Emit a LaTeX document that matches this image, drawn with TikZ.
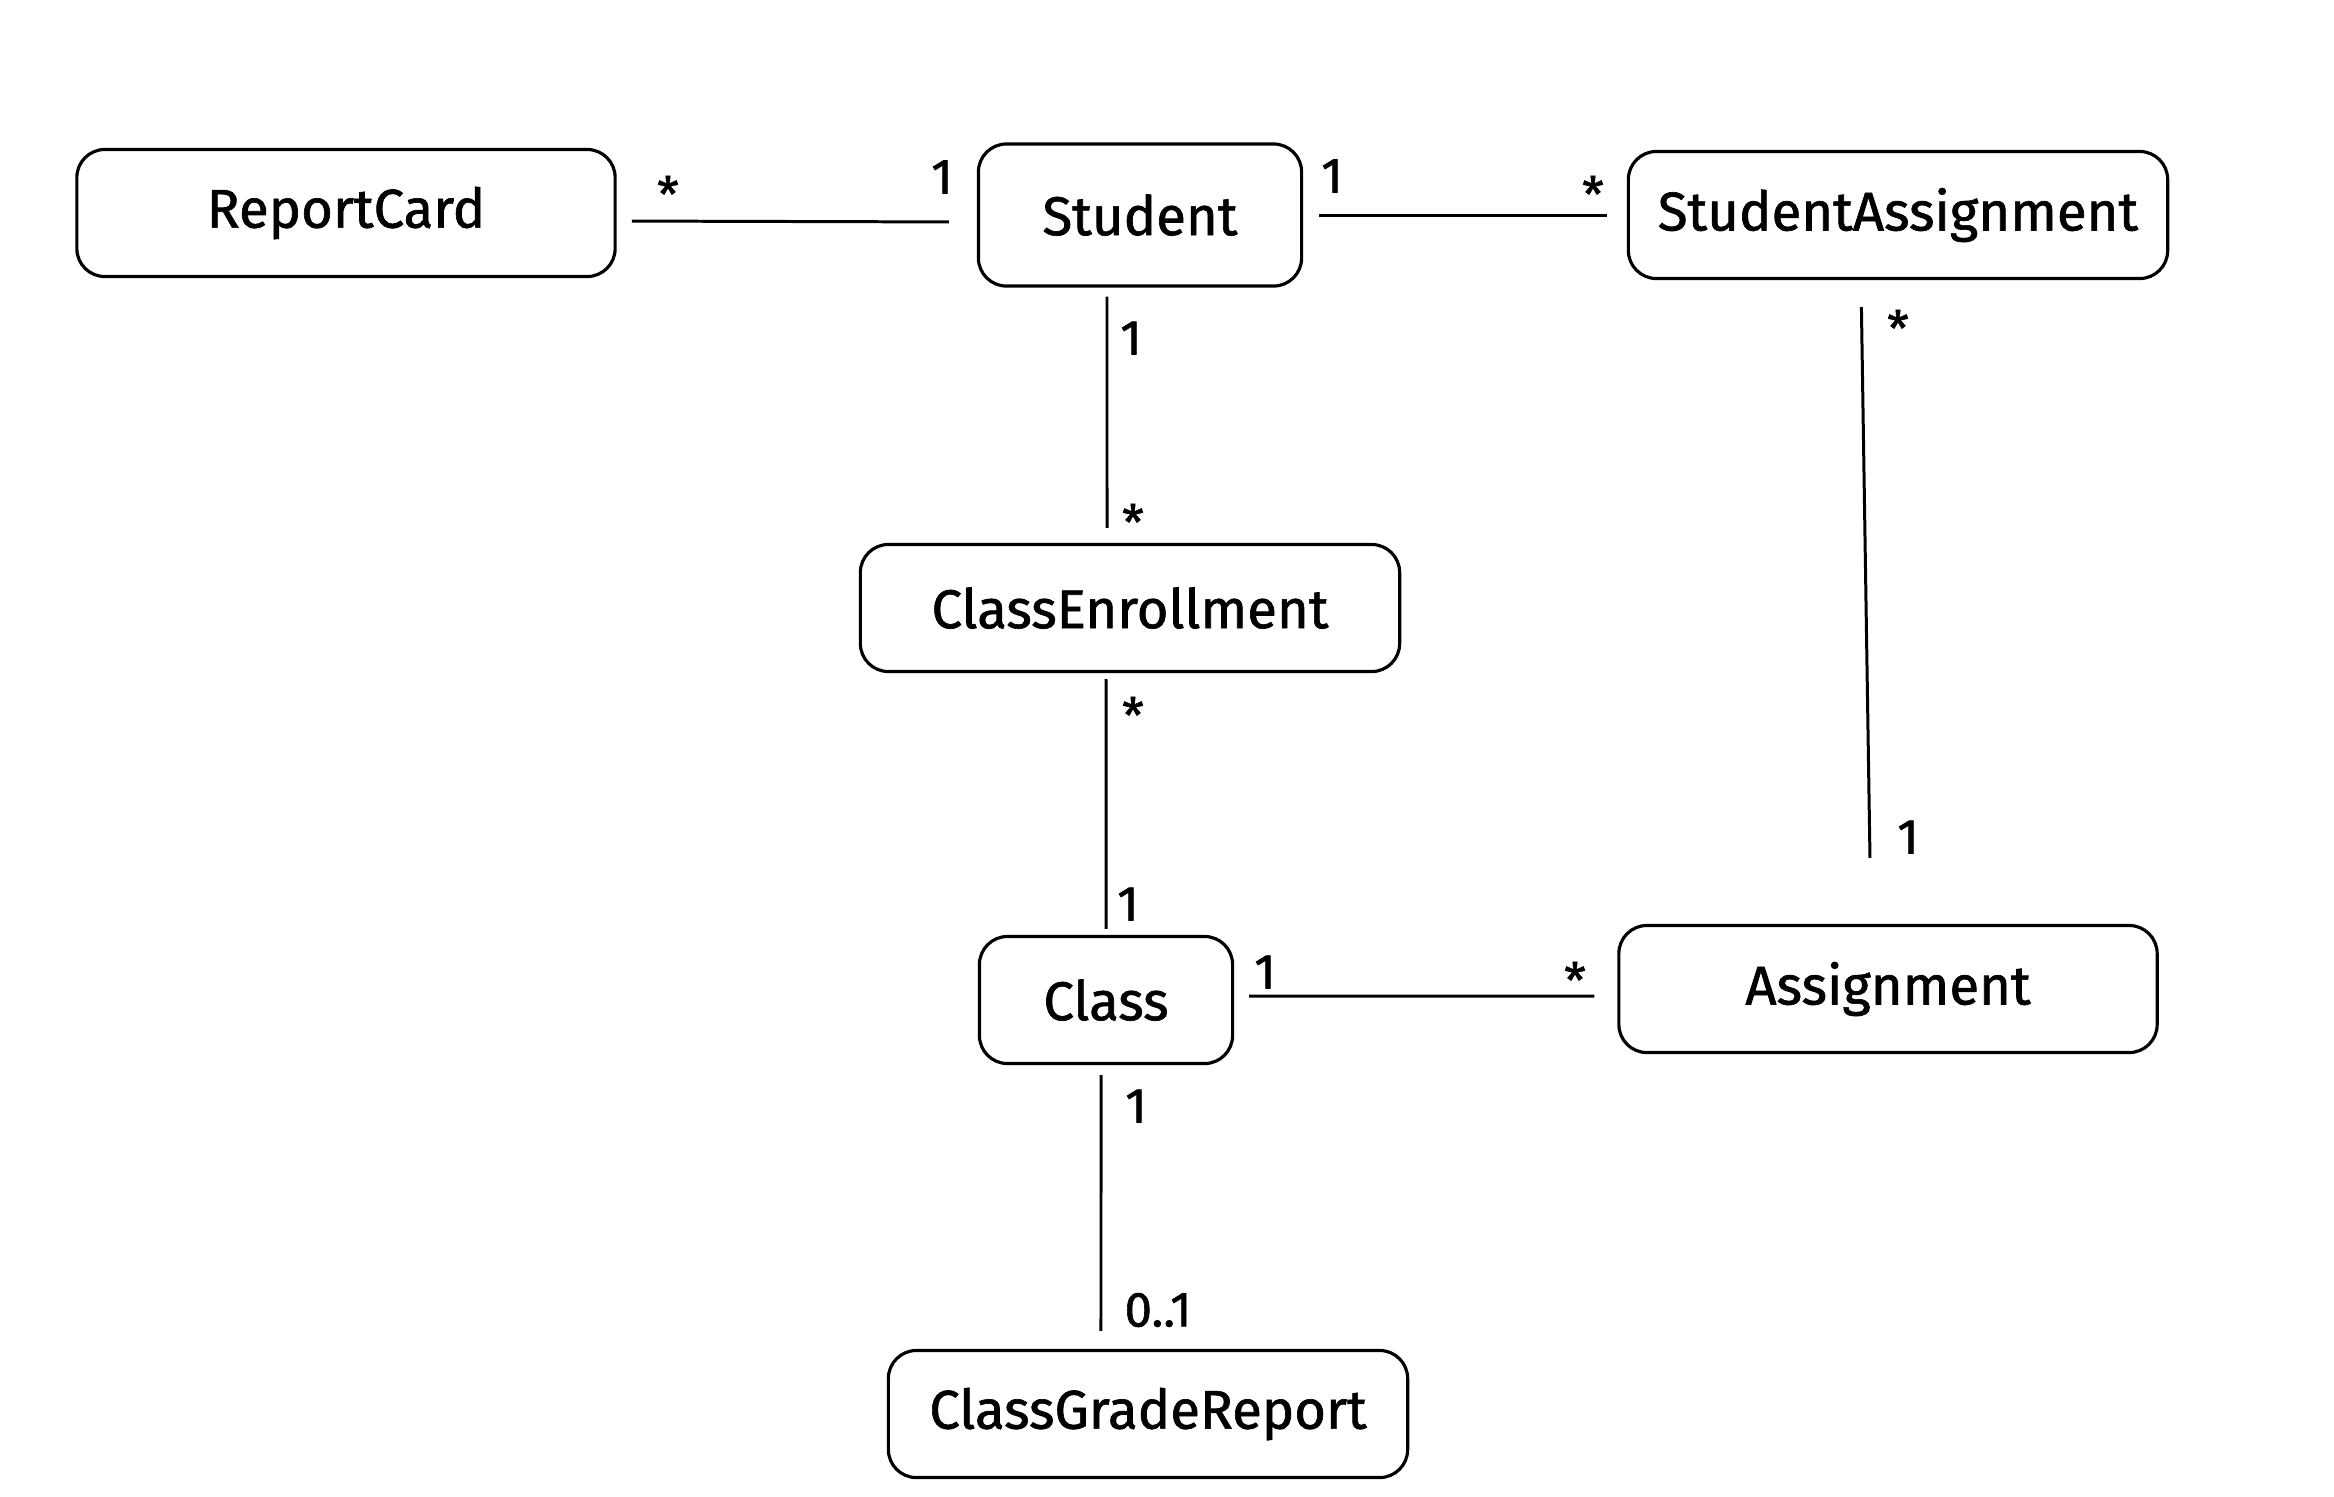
\documentclass[tikz,border=0pt]{standalone}
\usepackage{fontspec}
\setmainfont{Fira Sans}[UprightFeatures={FakeBold=1.2}]
\usetikzlibrary{positioning}

\begin{document}
\begin{tikzpicture}[
    x=0.01cm, y=-0.01cm,
    umlbox/.style={draw, rounded corners=0.28cm, line width=0.9pt, minimum height=1.27cm,
                   inner sep=0pt, font=\fontsize{15.5}{18}\selectfont},
    assoc/.style={line width=0.85pt},
    mult/.style={inner sep=0pt, font=\fontsize{14}{16}\selectfont}
]
    \useasboundingbox (0,0) rectangle (2334,1496);

    % classes
    \node[umlbox, minimum width=5.38cm] (report) at (346,213) {ReportCard};
    \node[umlbox, minimum width=3.23cm, minimum height=1.42cm] (student) at (1140,215) {Student};
    \node[umlbox, minimum width=5.39cm] (studasg) at (1898,215) {StudentAssignment};
    \node[umlbox, minimum width=5.39cm] (enroll) at (1130,608) {ClassEnrollment};
    \node[umlbox, minimum width=2.53cm] (class) at (1106,1000) {Class};
    \node[umlbox, minimum width=5.38cm] (assign) at (1888,989) {Assignment};
    \node[umlbox, minimum width=5.19cm] (gradereport) at (1148,1414) {ClassGradeReport};

    % associations
    \draw[assoc, shorten <=0.15cm, shorten >=0.28cm]
        ([yshift=-0.08cm]report.east) -- ([yshift=-0.07cm]student.west);
    \draw[assoc, shorten <=0.16cm, shorten >=0.20cm]
        (student.east) -- (studasg.west);
    \draw[assoc, shorten <=0.09cm, shorten >=0.15cm]
        ([xshift=-0.33cm]student.south) -- ([xshift=-0.23cm]enroll.north);
    \draw[assoc, shorten <=0.06cm, shorten >=0.06cm]
        ([xshift=-0.24cm]enroll.south) -- (class.north);
    \draw[assoc, shorten <=0.15cm, shorten >=0.23cm]
        ([yshift=0.04cm]class.east) -- ([yshift=-0.07cm]assign.west);
    \draw[assoc, shorten <=0.27cm, shorten >=0.66cm]
        ([xshift=-0.37cm]studasg.south) -- ([xshift=-0.17cm]assign.north);
    \draw[assoc, shorten <=0.10cm, shorten >=0.18cm]
        ([xshift=-0.05cm]class.south) -- ([xshift=-0.47cm]gradereport.north);

    % multiplicities
    \node[mult] (m1) at (668,194) {*};
    \node[mult] (m2) at (942,177) {1};
    \node[mult] (m3) at (1332,176) {1};
    \node[mult] (m4) at (1593,194) {*};
    \node[mult] (m5) at (1131,338) {1};
    \node[mult] (m6) at (1133,522) {*};
    \node[mult] (m7) at (1133,715) {*};
    \node[mult] (m8) at (1128,904) {1};
    \node[mult] (m9) at (1265,972) {1};
    \node[mult] (m10) at (1575,980) {*};
    \node[mult] (m11) at (1898,328) {*};
    \node[mult] (m12) at (1908,837) {1};
    \node[mult] (m13) at (1136,1106) {1};
    \node[mult] (m14) at (1158,1310) {0..1};
\end{tikzpicture}
\end{document}
